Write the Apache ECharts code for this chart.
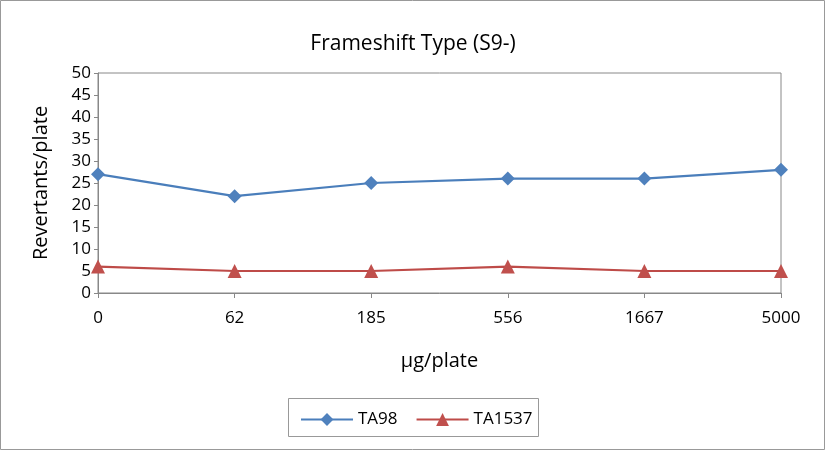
<!DOCTYPE html>
<html><head><meta charset="utf-8">
<script src="https://cdn.jsdelivr.net/npm/echarts@6/dist/echarts.min.js"></script>
<style>html,body{margin:0;padding:0;background:#fff}#c{width:826px;height:451px}</style>
</head><body><div id="c"></div>
<script>
const categories = ['0','62','185','556','1667','5000'];
const ta98 = [27, 22, 25, 26, 26, 28];
const ta1537 = [6, 5, 5, 6, 5, 5];
const yTicks = [0,5,10,15,20,25,30,35,40,45,50];

const font = 'Open Sans';
const chart = echarts.init(document.getElementById('c'), null, {renderer:'canvas'});
chart.setOption({
  animation:false,
  backgroundColor:'#fff',
  title:{text:'Frameshift Type (S9-)', left:'center', top:29,
    textStyle:{fontFamily:font, fontSize:21, fontWeight:'normal', color:'#000'}},
  grid:{left:98, right:45, top:73, bottom:158, show:true, borderColor:'#888', borderWidth:1},
  graphic:[
    {type:'rect', shape:{x:0.5,y:0.5,width:824,height:449}, style:{fill:'none', stroke:'#999', lineWidth:1}},
    {type:'rect', shape:{x:288.5,y:398.5,width:250,height:38}, style:{fill:'none', stroke:'#999', lineWidth:1}}
  ],
  legend:{top:406, left:295, itemGap:18, itemWidth:52, itemHeight:16,
    textStyle:{fontFamily:font, fontSize:17, color:'#000'},
    data:['TA98','TA1537']},
  xAxis:{type:'category', data:categories, boundaryGap:false,
    name:'μg/plate', nameLocation:'middle', nameGap:58,
    nameTextStyle:{fontFamily:font, fontSize:20, color:'#000'},
    axisLine:{lineStyle:{color:'#888'}},
    axisTick:{show:true, inside:false, length:5, lineStyle:{color:'#888'}},
    axisLabel:{fontFamily:font, fontSize:17, color:'#000', margin:17},
    splitLine:{show:false}},
  yAxis:{type:'value', min:0, max:50, interval:5,
    name:'Revertants/plate', nameLocation:'middle', nameGap:47,
    nameTextStyle:{fontFamily:font, fontSize:20, color:'#000'},
    axisLine:{show:true, lineStyle:{color:'#888'}},
    axisTick:{show:true, length:4, lineStyle:{color:'#888'}},
    axisLabel:{fontFamily:font, fontSize:17, color:'#000', margin:7},
    splitLine:{show:false}},
  series:[
    {name:'TA98', type:'line', data:ta98, symbol:'diamond', symbolSize:14,
      lineStyle:{color:'#4A7EBB', width:2.2}, itemStyle:{color:'#4F81BD'}},
    {name:'TA1537', type:'line', data:ta1537, symbol:'triangle', symbolSize:14,
      lineStyle:{color:'#BE4B48', width:2.2}, itemStyle:{color:'#C0504D'}}
  ]
});
</script></body></html>
